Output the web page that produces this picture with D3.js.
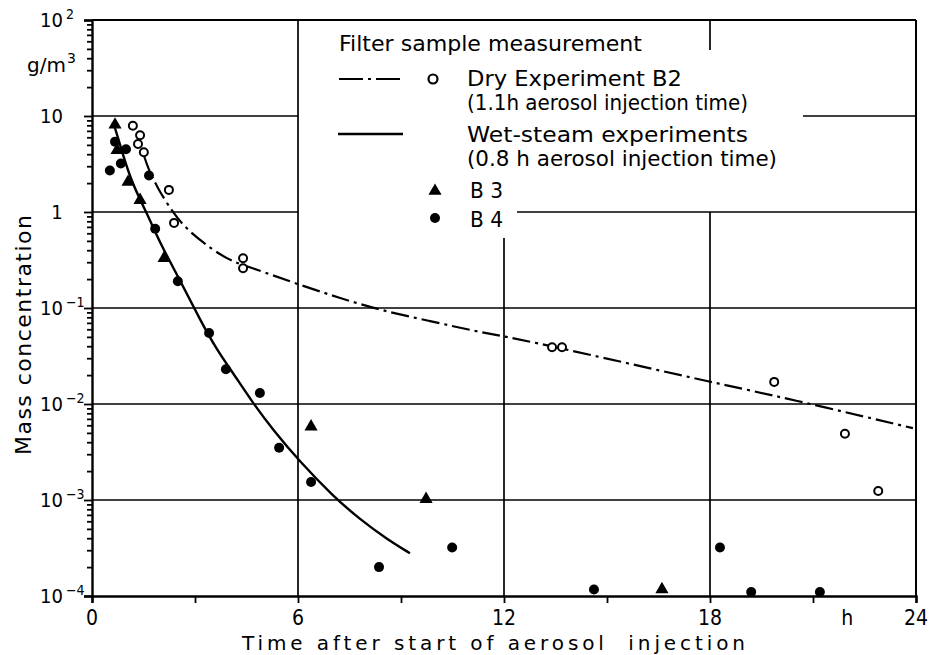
<!DOCTYPE html>
<html><head><meta charset="utf-8">
<script src="https://cdn.jsdelivr.net/npm/d3@7"></script>
<style>body{margin:0;background:#fff}</style>
</head><body><svg id="c" width="931" height="655"></svg>
<script>
// ---- data (hours, g/m^3) ----
const dryB2Hours  = [1.19, 1.40, 1.34, 1.51, 2.24, 2.39, 4.40, 4.40, 13.40, 13.69, 19.87, 21.93, 22.90];
const dryB2Values = [7.9, 6.3, 5.1, 4.2, 1.7, 0.77, 0.33, 0.26, 0.039, 0.039, 0.017, 0.0049, 0.00124];

const wetB3Hours  = [0.67, 0.73, 1.05, 1.40, 2.10, 6.38, 9.73, 16.60];
const wetB3Values = [8.1, 4.4, 2.05, 1.33, 0.33, 0.0058, 0.00102, 0.000117];

const wetB4Hours  = [0.52, 0.67, 0.84, 0.99, 1.66, 1.84, 2.50, 3.41, 3.90, 4.89, 5.45, 6.38, 8.36, 10.49, 14.62, 18.29, 19.20, 21.20];
const wetB4Values = [2.7, 5.4, 3.2, 4.5, 2.4, 0.67, 0.19, 0.055, 0.023, 0.013, 0.0035, 0.00154, 0.0002, 0.00032, 0.000117, 0.00032, 0.00011, 0.00011];

const dryCurveHours  = [1.50, 1.63, 1.89, 2.36, 2.77, 3.52, 4.11, 4.69, 5.97, 7.22, 8.39, 9.85, 11.30, 11.97, 13.25, 15.58, 18.03, 20.33, 23.91];
const dryCurveValues = [4.0, 2.87, 1.82, 0.98, 0.65, 0.40, 0.30, 0.26, 0.178, 0.127, 0.095, 0.073, 0.056, 0.051, 0.041, 0.0267, 0.0169, 0.0113, 0.0056];

const wetCurveHours  = [0.60, 0.67, 1.11, 1.60, 1.98, 2.56, 3.15, 3.64, 4.11, 4.69, 5.27, 6.06, 7.02, 7.81, 8.59, 9.26];
const wetCurveValues = [8.6, 7.7, 2.15, 0.976, 0.475, 0.196, 0.075, 0.0365, 0.021, 0.0102, 0.0054, 0.00249, 0.0011, 0.000625, 0.000392, 0.000279];

const xTickValues = [0, 3, 6, 9, 12, 15, 18, 21, 24];
const xLabelHours = [0, 6, 12, 18, 22, 24];
const xLabelTexts = ["0", "6", "12", "18", "h", "24"];
const yDecades    = [1e2, 1e1, 1, 1e-1, 1e-2, 1e-3, 1e-4];
const yLabelBases = ["10", "10", "1", "10", "10", "10", "10"];
const yLabelExps  = ["2", "", "", "\u22121", "\u22122", "\u22123", "\u22124"];

const legendTitle = "Filter sample measurement";
const legendTexts = ["Dry Experiment B2", "(1.1h aerosol injection time)", "Wet-steam experiments", "(0.8 h aerosol injection time)", "B 3", "B 4"];
const xTitle = "Time after start of aerosol  injection";
const yTitle = "Mass concentration";
const yUnit = "g/m";

// ---- layout ----
const W = 931, H = 655;
const L = 92, R = 916, T = 20, B = 596;
const FONT = "'DejaVu Sans', 'Liberation Sans', sans-serif";
const CFONT = "'DejaVu Sans Condensed', 'Liberation Sans Narrow', 'DejaVu Sans', sans-serif";

const x = d3.scaleLinear().domain([0, 24]).range([L, R]);
const y = d3.scaleLog().domain([1e-4, 1e2]).range([B, T]);

const svg = d3.select("#c");
svg.append("rect").attr("width", W).attr("height", H).attr("fill", "#fff");

const g = svg.append("g");
const gridW = 1.7;

// horizontal grid lines (some interrupted by the legend)
const hSegs = [
  [1e1, 0, 6], [1e1, x.invert(803), 24],
  [1, 0, 6], [1, x.invert(517), 24],
  [1e-1, 0, 24], [1e-2, 0, 24], [1e-3, 0, 24], [1e2, 0, 24]
];
g.selectAll("line.h").data(hSegs).join("line")
  .attr("x1", d => x(d[1])).attr("x2", d => x(d[2]))
  .attr("y1", d => y(d[0])).attr("y2", d => y(d[0]))
  .attr("stroke", "#000").attr("stroke-width", d => d[0] === 1e2 ? 2 : gridW);

// vertical grid lines
const vSegs = [
  [6, 1e-4, 1e2], [12, 1e-4, y.invert(238)], [18, 1e-4, 1], [18, y.invert(50), 1e2], [24, 1e-4, 1e2]
];
g.selectAll("line.v").data(vSegs).join("line")
  .attr("x1", d => x(d[0])).attr("x2", d => x(d[0]))
  .attr("y1", d => y(d[1])).attr("y2", d => y(d[2]))
  .attr("stroke", "#000").attr("stroke-width", d => d[0] === 24 ? 2 : gridW);

// axes
const minorTicks = [];
for (let e = -4; e < 2; e++) for (let k = 2; k <= 9; k++) minorTicks.push(k * Math.pow(10, e));
const ayMinor = g.append("g").attr("transform", `translate(${L},0)`)
  .call(d3.axisLeft(y).tickValues(minorTicks).tickSize(5).tickFormat(""));
const ayMajor = g.append("g").attr("transform", `translate(${L},0)`)
  .call(d3.axisLeft(y).tickValues(yDecades).tickSize(8).tickFormat(""));
const ax = g.append("g").attr("transform", `translate(0,${B})`)
  .call(d3.axisBottom(x).tickValues(xTickValues).tickSize(7).tickFormat(""));
[ayMinor, ayMajor, ax].forEach(a => {
  a.select(".domain").attr("stroke", "#000").attr("stroke-width", 2.4);
  a.selectAll(".tick line").attr("stroke", "#000").attr("stroke-width", 1.8);
});
ayMinor.select(".domain").remove();

// y tick labels
yDecades.forEach((v, i) => {
  const t = g.append("text").attr("font-family", CFONT).attr("font-size", 20)
    .attr("fill", "#000").attr("y", y(v) + 7);
  if (yLabelBases[i] === "1") {
    t.attr("x", 57).attr("text-anchor", "middle").text("1");
  } else {
    t.attr("x", 40);
    t.append("tspan").text(yLabelBases[i]);
    if (yLabelExps[i]) t.append("tspan").attr("font-size", 14).attr("dx", 3).attr("dy", -8).text(yLabelExps[i]);
  }
});
// unit
const ut = g.append("text").attr("font-family", FONT).attr("font-size", 20).attr("x", 27).attr("y", 72).attr("fill", "#000");
ut.append("tspan").text(yUnit);
ut.append("tspan").attr("font-size", 14).attr("dy", -9).attr("dx", 1).text("3");

// x tick labels
g.selectAll("text.xl").data(xLabelHours).join("text")
  .attr("x", d => x(d)).attr("y", 625)
  .attr("text-anchor", "middle").attr("font-family", CFONT).attr("font-size", 21)
  .attr("fill", "#000").text((d, i) => xLabelTexts[i]);

// titles
g.append("text").attr("x", 242).attr("y", 650).attr("font-family", FONT).attr("font-size", 20)
  .attr("textLength", 503).attr("lengthAdjust", "spacing").attr("xml:space", "preserve")
  .style("white-space", "pre").attr("fill", "#000").text(xTitle);
g.append("text").attr("transform", "translate(31,455) rotate(-90)").attr("font-family", FONT).attr("font-size", 22)
  .attr("textLength", 240).attr("lengthAdjust", "spacing").attr("fill", "#000").text(yTitle);

// curves
const line = d3.line().x(d => x(d[0])).y(d => y(d[1])).curve(d3.curveBasis);
const dryCurve = dryCurveHours.map((h, i) => [h, dryCurveValues[i]]);
const wetCurve = wetCurveHours.map((h, i) => [h, wetCurveValues[i]]);
g.append("path").datum(dryCurve).attr("d", line).attr("fill", "none").attr("stroke", "#000")
  .attr("stroke-width", 2.2).attr("stroke-dasharray", "18,5,3,5");
g.append("path").datum(wetCurve).attr("d", line).attr("fill", "none").attr("stroke", "#000")
  .attr("stroke-width", 2.4);

// markers
const tri = d3.symbol(d3.symbolTriangle).size(75);
g.selectAll("circle.b2").data(dryB2Hours).join("circle")
  .attr("cx", d => x(d)).attr("cy", (d, i) => y(dryB2Values[i])).attr("r", 4)
  .attr("fill", "#fff").attr("stroke", "#000").attr("stroke-width", 2);
g.selectAll("path.b3").data(wetB3Hours).join("path")
  .attr("d", tri).attr("transform", (d, i) => `translate(${x(d)},${y(wetB3Values[i])})`).attr("fill", "#000");
g.selectAll("circle.b4").data(wetB4Hours).join("circle")
  .attr("cx", d => x(d)).attr("cy", (d, i) => y(wetB4Values[i])).attr("r", 5).attr("fill", "#000");

// legend
const lg = svg.append("g").attr("font-family", FONT).attr("font-size", 22).attr("fill", "#000");
lg.append("text").attr("x", 339).attr("y", 51).attr("textLength", 303).attr("lengthAdjust", "spacingAndGlyphs").text(legendTitle);
lg.append("line").attr("x1", 339).attr("x2", 402).attr("y1", 79).attr("y2", 79)
  .attr("stroke", "#000").attr("stroke-width", 2.2).attr("stroke-dasharray", "24,5,3,5");
lg.append("circle").attr("cx", 433).attr("cy", 79).attr("r", 4.5).attr("fill", "#fff").attr("stroke", "#000").attr("stroke-width", 2.2);
lg.append("line").attr("x1", 338).attr("x2", 403).attr("y1", 134).attr("y2", 134)
  .attr("stroke", "#000").attr("stroke-width", 2.4);
lg.append("path").attr("d", tri).attr("transform", "translate(435,191)").attr("fill", "#000");
lg.append("circle").attr("cx", 435).attr("cy", 218).attr("r", 5).attr("fill", "#000");
const ly = [86, 110, 142, 166, 198, 227];
const lx = [467, 467, 467, 467, 470, 470];
const lw = [215, 281, 281, 310, 33, 33];
legendTexts.forEach((t, i) => lg.append("text").attr("x", lx[i]).attr("y", ly[i])
  .attr("textLength", lw[i]).attr("lengthAdjust", "spacingAndGlyphs").text(t));
</script>
</body></html>
